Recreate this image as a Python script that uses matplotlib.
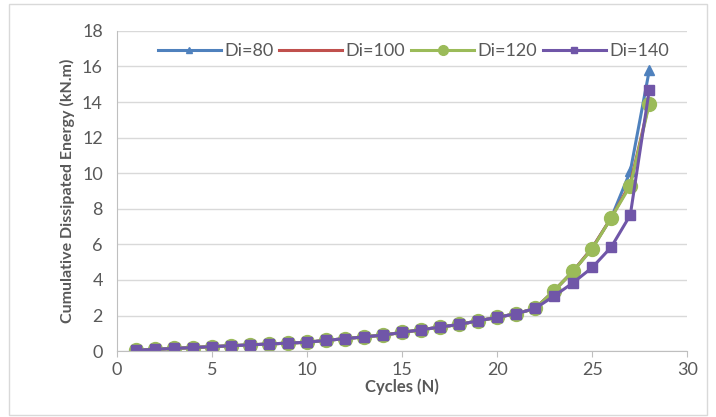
import matplotlib
matplotlib.use("Agg")
import matplotlib.pyplot as plt
from matplotlib.patches import Rectangle

cycles = list(range(1, 29))
base = [0.05, 0.1, 0.15, 0.2, 0.25, 0.3, 0.35, 0.4, 0.45, 0.5, 0.6, 0.7, 0.8, 0.9,
        1.05, 1.2, 1.35, 1.5, 1.7, 1.9, 2.1, 2.4]
di80 = base + [3.4, 4.5, 5.8, 7.5, 10.1, 15.8]
di100 = base + [3.4, 4.5, 5.8, 7.5, 9.4, 14.0]
di120 = base + [3.4, 4.5, 5.75, 7.5, 9.3, 13.9]
di140 = base + [3.1, 3.85, 4.7, 5.85, 7.65, 14.7]

plt.rcParams['font.family'] = ['Lato', 'DejaVu Sans']
fig = plt.figure(figsize=(7.16, 4.17), dpi=100)
fig.patches.append(Rectangle((0.012, 0.005), 0.976, 0.985, transform=fig.transFigure,
                             fill=False, edgecolor='#d9d9d9', linewidth=1))
ax = fig.add_axes([0.163, 0.158, 0.797, 0.768])

ax.plot(cycles, di80, color='#4F81BD', marker='^', markersize=7, linewidth=2.2, label='Di=80')
ax.plot(cycles, di100, color='#C0504D', linewidth=2.2, label='Di=100')
ax.plot(cycles, di120, color='#9BBB59', marker='o', markersize=10, linewidth=2.2, label='Di=120')
ax.plot(cycles, di140, color='#7056A8', marker='s', markersize=7, linewidth=2.2, label='Di=140')

ax.set_xlim(0, 30)
ax.set_ylim(0, 18)
ax.set_xticks(range(0, 31, 5))
ax.set_yticks(range(0, 19, 2))
ax.grid(axis='y', color='#d9d9d9', linewidth=1)
ax.set_axisbelow(True)
for s in ['top', 'right']:
    ax.spines[s].set_visible(False)
for s in ['left', 'bottom']:
    ax.spines[s].set_color('#bfbfbf')
ax.tick_params(axis='both', colors='#bfbfbf', labelcolor='#595959', labelsize=13, length=4)
ax.tick_params(axis='y', length=0, pad=10)
ax.set_xlabel('Cycles (N)', fontsize=12, fontweight='bold', color='#595959', labelpad=1)
ax.set_ylabel('Cumulative Dissipated Energy (kN.m)', fontsize=11.5, fontweight='bold',
              color='#595959', labelpad=5)

leg = ax.legend(loc='upper center', bbox_to_anchor=(0.52, 1.0), ncol=4, frameon=False,
                fontsize=13, handlelength=3.5, columnspacing=0.3, handletextpad=0.2,
                borderaxespad=0.3, markerscale=0.7)
for t in leg.get_texts():
    t.set_color('#595959')

fig.savefig('out.png', dpi=100)
